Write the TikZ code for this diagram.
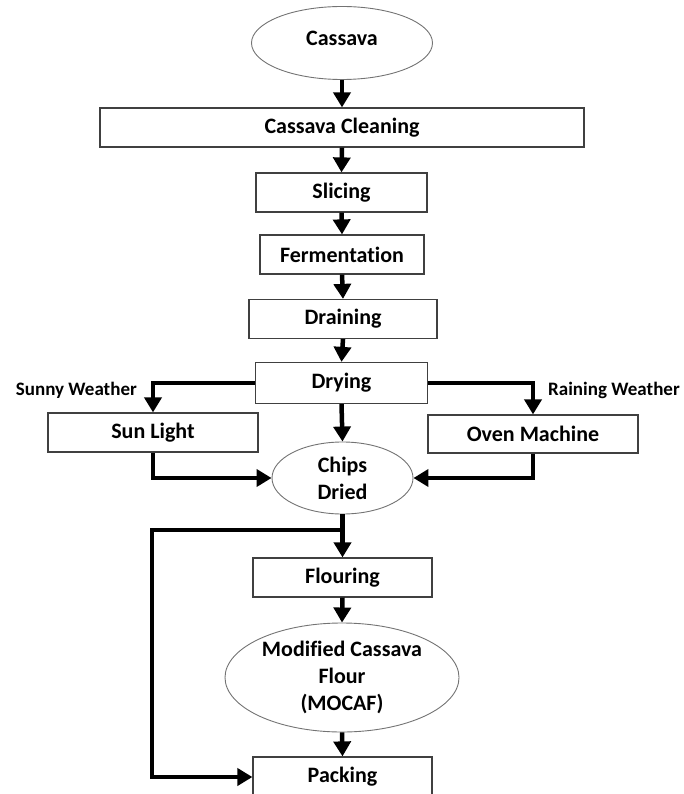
\documentclass[tikz,border=0pt]{standalone}
\usepackage{fontspec}
\setmainfont{Carlito}[Ligatures=NoCommon]
\usetikzlibrary{arrows.meta, shapes.geometric, positioning, calc}

\begin{document}
\begin{tikzpicture}[x=1pt,y=-1pt,
stage/.style={rectangle,draw=black!75,line width=1.2pt,minimum height=39pt,inner sep=0pt,
 font=\fontsize{22}{25}\selectfont\bfseries},
prod/.style={ellipse,draw=black!55,line width=0.9pt,inner sep=0pt,align=center,
 font=\fontsize{22}{27}\selectfont\bfseries},
weather/.style={inner sep=0pt,font=\fontsize{19}{22}\selectfont\bfseries},
flow/.style={line width=4.5pt,-{Triangle[length=15pt,width=17pt]}}]
 \useasboundingbox (0,0) rectangle (683,794);
 % main line
 \node[prod,minimum width=181pt,minimum height=73pt,text depth=9pt] (cas) at (342,43) {Cassava};
 \node[stage,minimum width=484pt] (clean) at (342,127.5) {Cassava Cleaning};
 \node[stage,minimum width=171pt] (slice) at (341.5,192.5) {Slicing};
 \node[stage,minimum width=164pt] (ferm) at (342,254.5) {Fermentation};
 \node[stage,minimum width=188pt] (drain) at (343,319) {Draining};
 \node[stage,minimum width=172pt,minimum height=41pt] (dry) at (341.5,383) {Drying};
 % drying routes
 \node[stage,minimum width=210pt] (sun) at (153,432.5) {Sun Light};
 \node[stage,minimum width=210pt,minimum height=38pt] (oven) at (533,434) {Oven Machine};
 \node[weather,anchor=east] (sunny) at (137,390) {Sunny Weather};
 \node[weather,anchor=west] (rain) at (548,390) {Raining Weather};
 \node[prod,minimum width=141pt,minimum height=72pt] (chips) at (342.5,478) {Chips\\Dried};
 % flour and packing
 \node[stage,minimum width=179pt] (flour) at (342.5,577.5) {Flouring};
 \node[prod,minimum width=234pt,minimum height=109pt] (mocaf) at (342,677.5) {Modified Cassava\\Flour\\(MOCAF)};
 \node[stage,minimum width=179pt,minimum height=40pt] (pack) at (342.5,777) {Packing};
 \coordinate (split) at (342,530);
 \foreach \A/\B in {cas/clean,clean/slice,slice/ferm,ferm/drain,drain/dry,dry/chips,flour/mocaf,mocaf/pack}
  \draw[flow] (\A.south) -- (\B.north);
 \draw[flow] (dry.west) -| (sun.north);
 \draw[flow] (dry.east) -| (oven.north);
 \draw[flow] (sun.south) |- (chips.west);
 \draw[flow] (oven.south) |- (chips.east);
 \draw[flow] (chips.south) -- (flour.north);
 \draw[flow] (split) -- ++(-190,0) |- (pack.west);
\end{tikzpicture}
\end{document}
